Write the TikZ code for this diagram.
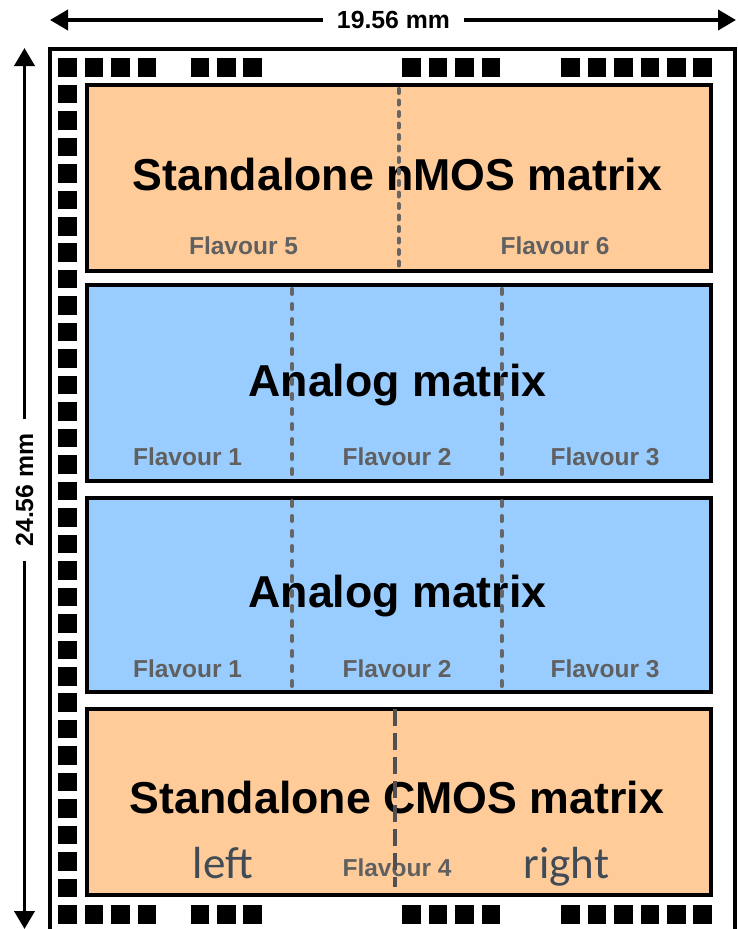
\documentclass[tikz,border=0pt]{standalone}
\usepackage{fontspec}
\setmainfont{Liberation Sans}
\newfontfamily\calibrifont{Carlito}
\usetikzlibrary{arrows.meta}
\definecolor{peach}{HTML}{FFCC99}
\definecolor{skyblue}{HTML}{99CCFF}
\definecolor{flavgray}{HTML}{606060}
\definecolor{dashgray}{HTML}{666666}
\definecolor{darkdash}{HTML}{505050}
\definecolor{slate}{HTML}{404B56}
\begin{document}
\begin{tikzpicture}[x=1pt,y=-1pt,
  pad/.style={fill=black, draw=none, minimum size=18.5pt, inner sep=0pt, anchor=north west},
  blk/.style={draw=black, line width=4pt, inner sep=0pt, minimum width=623.5pt},
  orangeblk/.style={blk, fill=peach},
  blueblk/.style={blk, fill=skyblue},
  titletext/.style={font=\bfseries\fontsize{44.7}{50}\selectfont, inner sep=0pt, anchor=base},
  flavtext/.style={font=\bfseries\fontsize{24.5}{28}\selectfont, text=flavgray, inner sep=0pt, anchor=base},
  sidetext/.style={font=\calibrifont\fontsize{45}{50}\selectfont, text=slate, inner sep=0pt, anchor=base},
  dimtext/.style={font=\bfseries\fontsize{24.8}{28}\selectfont, inner sep=14pt},
  dimline/.style={line width=3.8pt, -{Triangle[length=18pt,width=20pt]}},
  finedash/.style={draw=dashgray, line width=4pt, line cap=round, dash pattern=on 4pt off 7.5pt},
  middash/.style={draw=dashgray, line width=4pt, line cap=round, dash pattern=on 5pt off 10pt},
  heavydash/.style={draw=darkdash, line width=4pt, dash pattern=on 17pt off 7pt}
]
\useasboundingbox (0,0) rectangle (737,929);
\fill[white] (0,0) rectangle (737,929);

% dimension arrows
\coordinate (hl) at (50,20);
\coordinate (hr) at (736,20);
\node[dimtext] (hdim) at (393.5,20) {19.56 mm};
\draw[dimline] (hdim) -- (hl);
\draw[dimline] (hdim) -- (hr);
\coordinate (vt) at (24.5,48);
\coordinate (vb) at (24.5,929);
\node[dimtext, rotate=90] (vdim) at (24.5,490) {24.56 mm};
\draw[dimline] (vdim) -- (vt);
\draw[dimline] (vdim) -- (vb);

% chip frame
\draw[line width=4pt] (50,49) rectangle (735,936);

% pads
\foreach \n in {0,...,32} \node[pad] (L\n) at (58,{58+26.47*\n}) {};
\foreach \n in {1,2,3,5,6,7,13,14,15,16,19,20,21,22,23,24} {
  \node[pad] (T\n) at ({58+26.47*\n},58) {};
  \node[pad] (B\n) at ({58+26.47*\n},905) {};
}

% blocks
\node[orangeblk, minimum height=186pt] (nmos) at (398.75,178) {};
\node[blueblk, minimum height=196pt] (ana1) at (398.75,383) {};
\node[blueblk, minimum height=194.5pt] (ana2) at (398.75,594.75) {};
\node[orangeblk, minimum height=186pt] (cmos) at (398.75,802) {};

% titles
\node[titletext] (tnmos) at (397.5,190) {Standalone nMOS matrix};
\node[titletext] (tana1) at (397.5,396) {Analog matrix};
\node[titletext] (tana2) at (397.5,607.5) {Analog matrix};
\node[titletext] (tcmos) at (397,813) {Standalone CMOS matrix};

% flavour labels
\node[flavtext] (f5) at (243.5,254) {Flavour 5};
\node[flavtext] (f6) at (555,254) {Flavour 6};
\node[flavtext] (f1a) at (187.5,465) {Flavour 1};
\node[flavtext] (f2a) at (397,465) {Flavour 2};
\node[flavtext] (f3a) at (605,465) {Flavour 3};
\node[flavtext] (f1b) at (187.5,677) {Flavour 1};
\node[flavtext] (f2b) at (397,677) {Flavour 2};
\node[flavtext] (f3b) at (605,677) {Flavour 3};
\node[flavtext] (f4) at (397,876) {Flavour 4};
\node[sidetext] (tleft) at (223,878) {left};
\node[sidetext] (tright) at (566.5,878) {right};

% dashed dividers
\draw[finedash] (398.5,89) -- (398.5,269);
\draw[middash] (292,289) -- (292,480);
\draw[middash] (501.5,289) -- (501.5,480);
\draw[middash] (292,501) -- (292,691);
\draw[middash] (501.5,501) -- (501.5,691);
\draw[heavydash] (394.5,709) -- (394.5,887);
\end{tikzpicture}
\end{document}
